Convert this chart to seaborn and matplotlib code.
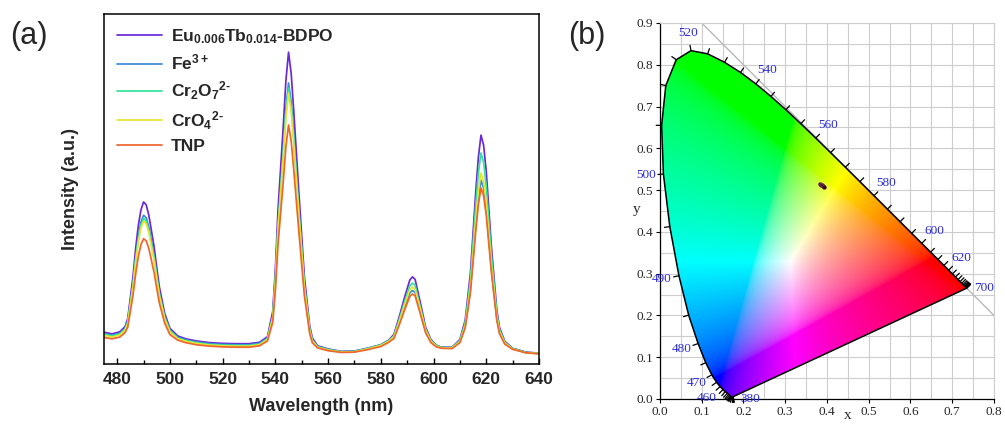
import numpy as np
import pandas as pd
import matplotlib
matplotlib.use("Agg")
import matplotlib.pyplot as plt
import seaborn as sns
from matplotlib.patches import Polygon
from matplotlib.ticker import MultipleLocator, FormatStrFormatter

# ---- panel (a): emission spectra ----
WAVELENGTH = [475, 478, 481, 483,
              484, 486, 487, 488, 489, 490,
              491, 492, 494, 495, 496, 498, 500,
              503, 506, 510, 515, 520, 525, 530, 534, 537,
              539, 540, 541, 543, 544, 545, 546, 547, 548, 549, 551, 553, 554,
              556, 560, 565, 570, 575, 580, 583,
              585, 587, 589, 591, 592, 593, 595, 597, 599, 601,
              603, 607,
              610, 612, 614, 616, 617, 618, 619, 620, 621, 622, 624, 625, 627,
              630, 635, 640]

EU_TB = [9.1, 8.6, 9.2, 10.7,
         13.0, 25.0, 33.0, 39.5, 44.0, 46.3,
         45.5, 42.5, 33.5, 27.5, 22.0, 14.5, 10.2,
         8.0, 7.2, 6.6, 6.1, 5.9, 5.8, 5.8, 6.2, 7.8,
         15.0, 27.0, 44.0, 68.0, 81.0, 89.1, 83.0, 72.0, 60.0, 48.0, 25.0, 11.0, 7.5,
         5.2, 4.3, 3.6, 3.7, 4.5, 5.5, 6.8,
         8.5, 13.5, 19.0, 24.0, 24.9, 24.2, 17.5, 10.5, 7.0, 5.4,
         4.8, 4.8,
         7.0, 12.5, 26.0, 49.0, 59.0, 65.4, 62.5, 55.0, 44.0, 33.0, 15.5, 10.5, 6.5,
         4.5, 3.4, 3.1]

FE = [8.7, 8.2, 8.8, 10.2,
      12.2, 23.2, 30.4, 36.4, 40.5, 42.5,
      41.8, 39.1, 30.9, 25.4, 20.4, 13.6, 9.7,
      7.6, 6.9, 6.3, 5.8, 5.6, 5.5, 5.5, 5.9, 7.4,
      13.8, 24.6, 39.8, 61.4, 73.1, 80.3, 74.8, 65.0, 54.2, 43.4, 22.8, 10.2, 7.0,
      5.0, 4.2, 3.5, 3.6, 4.5, 5.5, 6.8,
      7.7, 11.8, 16.2, 20.3, 21.0, 20.5, 15.0, 9.4, 6.5, 5.2,
      4.7, 4.7,
      6.4, 10.7, 21.4, 39.6, 47.5, 52.5, 50.2, 44.3, 35.6, 26.9, 13.1, 9.1, 6.0,
      4.4, 3.3, 3.0]

CR2O7 = [8.5, 8.0, 8.6, 10.0,
         12.0, 22.6, 29.8, 35.5, 39.6, 41.6,
         40.9, 38.2, 30.2, 24.9, 20.0, 13.3, 9.5,
         7.4, 6.7, 6.1, 5.6, 5.4, 5.3, 5.3, 5.7, 7.2,
         13.4, 24.0, 39.1, 60.2, 71.7, 78.9, 73.5, 63.8, 53.2, 42.6, 22.3, 9.9, 6.8,
         4.9, 4.1, 3.5, 3.6, 4.4, 5.4, 6.6,
         8.1, 12.7, 17.7, 22.3, 23.1, 22.5, 16.3, 9.9, 6.7, 5.3,
         4.7, 4.7,
         6.7, 11.7, 24.1, 45.3, 54.4, 60.3, 57.6, 50.8, 40.7, 30.6, 14.5, 9.9, 6.2,
         4.4, 3.3, 3.0]

CRO4 = [8.2, 7.7, 8.3, 9.7,
        11.6, 22.1, 29.1, 34.8, 38.8, 40.8,
        40.1, 37.5, 29.6, 24.3, 19.5, 12.9, 9.2,
        7.2, 6.5, 5.9, 5.4, 5.2, 5.1, 5.1, 5.5, 7.0,
        13.1, 23.5, 38.3, 59.1, 70.4, 77.4, 72.1, 62.6, 52.2, 41.8, 21.8, 9.6, 6.6,
        4.8, 4.0, 3.4, 3.5, 4.3, 5.3, 6.5,
        7.8, 12.1, 16.9, 21.2, 22.0, 21.4, 15.6, 9.6, 6.5, 5.1,
        4.6, 4.6,
        6.4, 10.9, 22.1, 41.1, 49.3, 54.6, 52.2, 46.0, 36.9, 27.8, 13.4, 9.3, 6.0,
        4.3, 3.2, 3.0]

TNP = [7.6, 7.2, 7.7, 9.0,
       10.5, 19.7, 25.7, 30.7, 34.1, 35.8,
       35.2, 33.0, 26.1, 21.6, 17.4, 11.7, 8.4,
       6.8, 6.1, 5.5, 5.1, 4.9, 4.8, 4.8, 5.2, 6.6,
       11.9, 21.0, 34.0, 52.2, 62.2, 68.3, 63.7, 55.3, 46.1, 37.0, 19.5, 8.8, 6.1,
       4.6, 3.8, 3.3, 3.4, 4.1, 5.0, 6.2,
       7.3, 11.2, 15.4, 19.3, 20.0, 19.5, 14.3, 8.9, 6.1, 4.9,
       4.5, 4.4,
       6.1, 10.3, 20.5, 37.9, 45.5, 50.3, 48.1, 42.4, 34.1, 25.8, 12.5, 8.7, 5.7,
       4.2, 3.2, 2.9]

LABELS = ["Eu$_{0.006}$Tb$_{0.014}$-BDPO", "Fe$^{3+}$", "Cr$_2$O$_7$$^{2\u2010}$",
          "CrO$_4$$^{2\u2010}$", "TNP"]
COLORS = ["#6a28d8", "#3a8ad8", "#33e39a", "#e6e62e", "#f0642e"]

# ---- panel (b): CIE 1931 spectral locus (5 nm) and sample coordinates ----
LOCUS_NM = list(range(380, 701, 5))
LOCUS_X = [0.1741, 0.1740, 0.1738, 0.1736, 0.1733, 0.1730, 0.1726, 0.1721, 0.1714, 0.1703,
           0.1689, 0.1669, 0.1644, 0.1611, 0.1566, 0.1510, 0.1440, 0.1355, 0.1241, 0.1096,
           0.0913, 0.0687, 0.0454, 0.0235, 0.0082, 0.0039, 0.0139, 0.0389, 0.0743, 0.1142,
           0.1547, 0.1929, 0.2296, 0.2658, 0.3016, 0.3373, 0.3731, 0.4087, 0.4441, 0.4788,
           0.5125, 0.5448, 0.5752, 0.6029, 0.6270, 0.6482, 0.6658, 0.6801, 0.6915, 0.7006,
           0.7079, 0.7140, 0.7190, 0.7230, 0.7260, 0.7283, 0.7300, 0.7311, 0.7320, 0.7327,
           0.7334, 0.7340, 0.7344, 0.7346, 0.7347]
LOCUS_Y = [0.0050, 0.0050, 0.0049, 0.0049, 0.0048, 0.0048, 0.0048, 0.0048, 0.0051, 0.0058,
           0.0069, 0.0086, 0.0109, 0.0138, 0.0177, 0.0227, 0.0297, 0.0399, 0.0578, 0.0868,
           0.1327, 0.2007, 0.2950, 0.4127, 0.5384, 0.6548, 0.7502, 0.8120, 0.8338, 0.8262,
           0.8059, 0.7816, 0.7543, 0.7243, 0.6923, 0.6589, 0.6245, 0.5896, 0.5547, 0.5202,
           0.4866, 0.4544, 0.4242, 0.3965, 0.3725, 0.3514, 0.3340, 0.3197, 0.3083, 0.2993,
           0.2920, 0.2859, 0.2809, 0.2770, 0.2740, 0.2717, 0.2700, 0.2689, 0.2680, 0.2673,
           0.2666, 0.2660, 0.2656, 0.2654, 0.2653]
LOCUS_LABELS = [380, 460, 470, 480, 490, 500, 520, 540, 560, 580, 600, 620, 700]

CIE_X = [0.384, 0.386, 0.388, 0.390, 0.392]
CIE_Y = [0.515, 0.513, 0.512, 0.510, 0.508]

sns.set_theme(style="ticks")
plt.rcParams["font.family"] = ["Liberation Sans", "DejaVu Sans"]
plt.rcParams.update({
    "mathtext.fontset": "custom",
    "mathtext.rm": "Liberation Sans:bold",
    "mathtext.it": "Liberation Sans:bold",
    "mathtext.bf": "Liberation Sans:bold",
    "mathtext.default": "rm",
})

fig = plt.figure(figsize=(10.05, 4.25), dpi=100)
ax1 = fig.add_axes([0.1035, 0.1435, 0.4328, 0.8235])
ax2 = fig.add_axes([0.6567, 0.0612, 0.3323, 0.8847])

# ---------------- (a) ----------------
series = [EU_TB, FE, CR2O7, CRO4, TNP]
df = pd.DataFrame({
    "Wavelength": np.tile(WAVELENGTH, len(series)),
    "Intensity": np.concatenate(series),
    "Sample": np.repeat(LABELS, len(WAVELENGTH)),
})
sns.lineplot(data=df, x="Wavelength", y="Intensity", hue="Sample",
             hue_order=LABELS, palette=dict(zip(LABELS, COLORS)),
             estimator=None, linewidth=1.25, ax=ax1)

ax1.set_xlim(475, 640)
ax1.set_ylim(0, 100)
ax1.set_xticks(range(480, 641, 20))
ax1.xaxis.set_minor_locator(MultipleLocator(10))
ax1.set_yticks([])
ax1.tick_params(axis="x", which="major", direction="in", length=4, width=1,
                pad=6, labelsize=12.5, color="black")
ax1.tick_params(axis="x", which="minor", direction="in", length=3, width=1, color="black")
for lab in ax1.get_xticklabels():
    lab.set_fontweight("bold")
for sp in ax1.spines.values():
    sp.set_color("black")
    sp.set_linewidth(1.1)
ax1.set_xlabel("Wavelength (nm)", fontsize=13, fontweight="bold", labelpad=8)
ax1.set_ylabel("Intensity (a.u.)", fontsize=13, fontweight="bold", labelpad=18)

handles, labels = ax1.get_legend_handles_labels()
leg = ax1.legend(handles, labels, loc="upper left", frameon=False,
                 handlelength=2.6, handletextpad=0.5, labelspacing=0.4,
                 borderaxespad=0.35, prop={"weight": "bold", "size": 12.5})

fig.text(10 / 1005, 1 - 36 / 425, "(a)", fontsize=22, ha="left", va="center")
fig.text(568 / 1005, 1 - 36 / 425, "(b)", fontsize=22, ha="left", va="center")

# ---------------- (b) ----------------
serif = "Liberation Serif"
ax2.set_xlim(0, 0.8)
ax2.set_ylim(0, 0.9)
ax2.xaxis.set_major_locator(MultipleLocator(0.1))
ax2.yaxis.set_major_locator(MultipleLocator(0.1))
ax2.xaxis.set_minor_locator(MultipleLocator(0.05))
ax2.yaxis.set_minor_locator(MultipleLocator(0.05))
ax2.xaxis.set_major_formatter(FormatStrFormatter("%.1f"))
ax2.yaxis.set_major_formatter(FormatStrFormatter("%.1f"))
ax2.set_axisbelow(True)
ax2.grid(which="both", color="#cdcdcd", linewidth=0.8)
ax2.tick_params(which="major", direction="out", length=3, width=0.8,
                labelsize=9.5, pad=2, color="black")
ax2.tick_params(which="minor", length=0)
for lab in ax2.get_xticklabels() + ax2.get_yticklabels():
    lab.set_fontfamily(serif)
for side in ["left", "bottom"]:
    ax2.spines[side].set_color("black")
    ax2.spines[side].set_linewidth(0.9)
for side in ["top", "right"]:
    ax2.spines[side].set_color("#cdcdcd")
    ax2.spines[side].set_linewidth(0.8)

ax2.axline((0, 1), slope=-1, color="#b8b8b8", linewidth=1.0, zorder=0.8)

# chromaticity colour field, clipped to the locus
gx = np.linspace(0, 0.8, 401)
gy = np.linspace(0, 0.9, 451)
GX, GY = np.meshgrid(gx, gy)
yy = np.clip(GY, 1e-4, None)
XYZ = np.stack([GX / yy, np.ones_like(GX), (1 - GX - GY) / yy], axis=-1)
M = np.array([[3.2406, -1.5372, -0.4986],
              [-0.9689, 1.8758, 0.0415],
              [0.0557, -0.2040, 1.0570]])
rgb = np.clip(XYZ @ M.T, 0, None)
rgb = rgb / (rgb.max(axis=-1, keepdims=True) + 1e-9)
rgb = np.where(rgb <= 0.0031308, 12.92 * rgb, 1.055 * rgb ** (1 / 2.4) - 0.055)
rgb = np.clip(rgb, 0, 1)
im = ax2.imshow(rgb, origin="lower", extent=(0, 0.8, 0, 0.9), aspect="auto",
                interpolation="bilinear", zorder=1)
pts = np.column_stack([LOCUS_X, LOCUS_Y])
poly = Polygon(pts, closed=True, facecolor="none", edgecolor="black",
               linewidth=1.1, zorder=3)
ax2.add_patch(poly)
im.set_clip_path(poly)

# wavelength ticks and labels on the locus
white = np.array([0.3127, 0.3290])
n = len(pts)
normals = []
for i in range(n):
    a = pts[max(i - 1, 0)]
    b = pts[min(i + 1, n - 1)]
    t = b - a
    t = t / (np.hypot(*t) + 1e-12)
    nrm = np.array([-t[1], t[0]])
    if np.dot(nrm, pts[i] - white) < 0:
        nrm = -nrm
    normals.append(nrm)
    ax2.plot([pts[i, 0], pts[i, 0] + 0.013 * nrm[0]],
             [pts[i, 1], pts[i, 1] + 0.013 * nrm[1]],
             color="black", linewidth=0.9, zorder=3, clip_on=False)

label_dir = {380: np.array([0.99, -0.12]), 700: np.array([1.0, 0.0])}
for wl in LOCUS_LABELS:
    i = LOCUS_NM.index(wl)
    d = label_dir.get(wl, normals[i])
    ax2.text(pts[i, 0] + 0.042 * d[0], pts[i, 1] + 0.042 * d[1], str(wl),
             color="#2b2bd6", fontsize=9.5, fontfamily=serif,
             ha="center", va="center", zorder=4, clip_on=False)

sns.scatterplot(x=CIE_X, y=CIE_Y, ax=ax2, color="#2a0a14", s=9,
                edgecolor="#a05070", linewidth=0.3, zorder=5, legend=False)

ax2.set_xlabel("x", fontsize=11, fontfamily=serif)
ax2.set_ylabel("y", fontsize=11, fontfamily=serif, rotation=0)
ax2.xaxis.set_label_coords(0.563, -0.045)
ax2.yaxis.set_label_coords(-0.069, 0.503)
ax2.xaxis.label.set_va("center")
ax2.yaxis.label.set_va("center")

fig.savefig("out.png", dpi=100)
